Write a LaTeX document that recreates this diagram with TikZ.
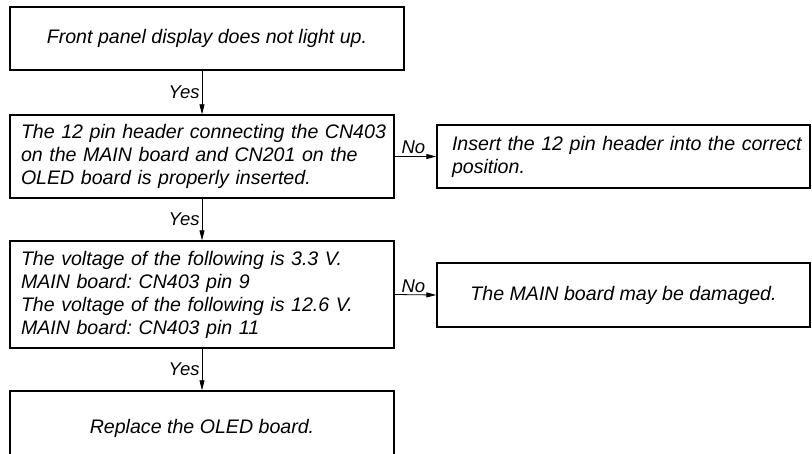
\documentclass[tikz,border=0pt]{standalone}
\usepackage{fontspec}
\setmainfont{Liberation Sans}
\usetikzlibrary{arrows.meta}
\hbadness=10000 \hfuzz=40pt
\newcommand{\oneline}[1]{\mbox{#1}}
\begin{document}
\begin{tikzpicture}[x=1pt,y=-1pt,
  box/.style={draw,line width=1.4pt,inner ysep=0pt,font=\frenchspacing\fontsize{19.6}{23}\selectfont\itshape},
  lbox/.style={box,align=left},
  cbox/.style={box,align=center},
  conn/.style={line width=0.8pt,-{Triangle[length=10pt,width=5pt]}},
  lab/.style={font=\fontsize{18.5}{22}\selectfont\itshape,inner sep=2pt}]
\useasboundingbox (0,0) rectangle (812,453);
\clip (0,0) rectangle (812,453);
\node[cbox,minimum width=394pt,minimum height=63pt] (b1) at (207,38.5)
  {Front panel display does not light up.};
\node[lbox,text width=362pt,inner xsep=11pt,minimum height=83pt] (b2) at (202,156.5)
  {\oneline{The 12 pin header connecting the CN403}\\\oneline{on the MAIN board and CN201 on the}\\\oneline{OLED board is properly inserted.}};
\node[lbox,text width=362pt,inner xsep=11pt,minimum height=107pt] (b3) at (202,294.5)
  {\oneline{The voltage of the following is 3.3 V.}\\\oneline{MAIN board: CN403 pin 9}\\\oneline{The voltage of the following is 12.6 V.}\\\oneline{MAIN board: CN403 pin 11}};
\node[cbox,minimum width=384pt,minimum height=74pt] (b4) at (202,428)
  {Replace the OLED board.};
\node[lbox,text width=343pt,inner xsep=15pt,minimum height=63pt] (ins) at (623.5,156.5)
  {\oneline{Insert the 12 pin header into the correct}\\\oneline{position.}};
\node[cbox,minimum width=373pt,minimum height=64pt] (dmg) at (623.5,295)
  {The MAIN board may be damaged.};
\draw[conn] (b1.south -| b2.north) -- node[lab,left] {Yes} (b2.north);
\draw[conn] (b2.south) -- node[lab,left] {Yes} (b3.north);
\draw[conn] (b3.south) -- node[lab,left] {Yes} (b4.north);
\draw[conn] (b2.east) -- node[lab,above,pos=0.45] {No} (ins.west);
\draw[conn] (b3.east) -- node[lab,above,pos=0.45] {No} (dmg.west);
\end{tikzpicture}
\end{document}
